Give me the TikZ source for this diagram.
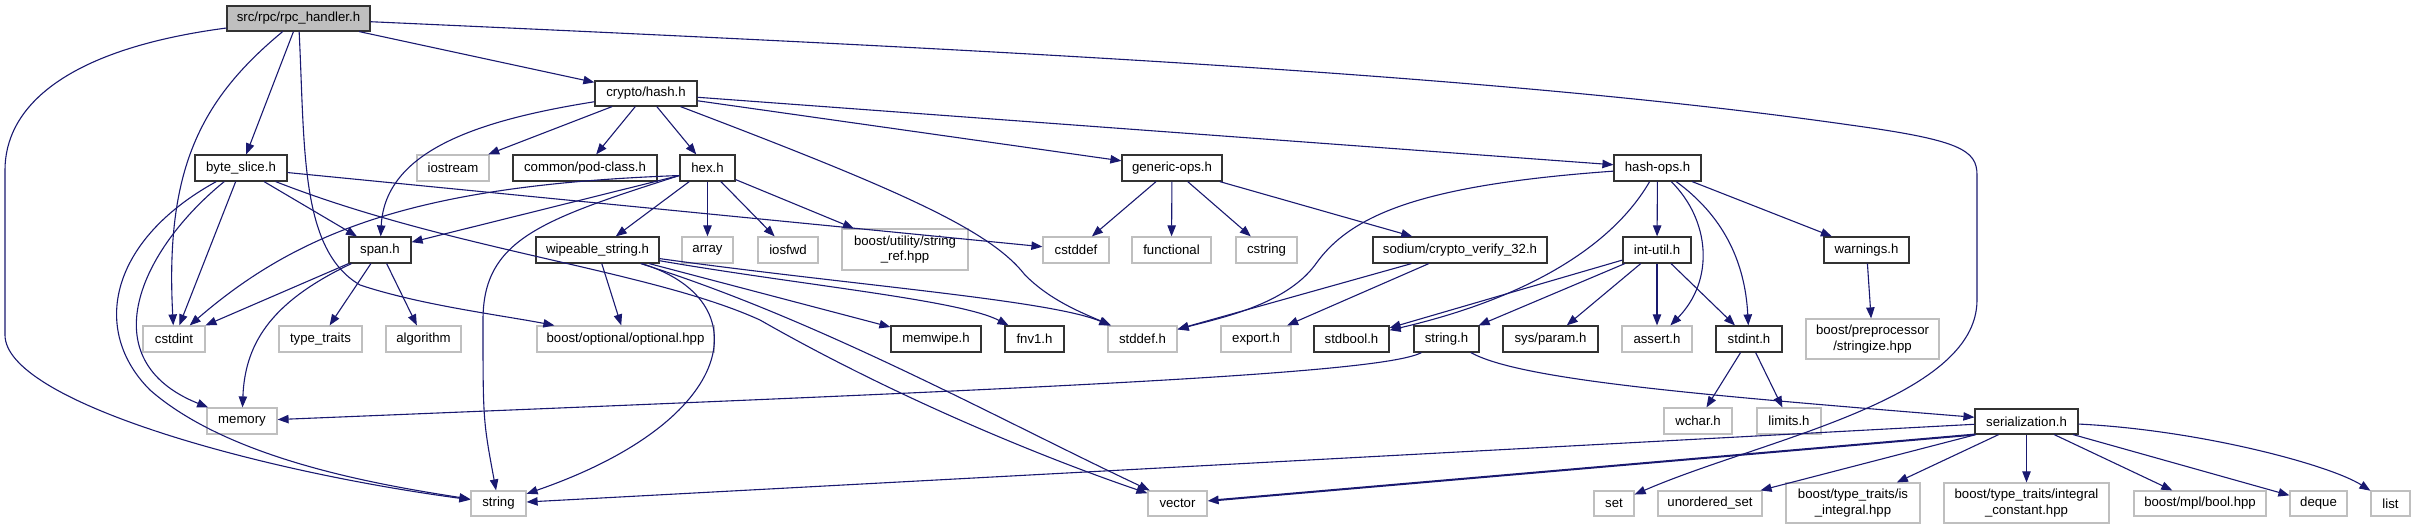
\documentclass[tikz,border=0pt]{standalone}
\usepackage{fontspec}
\setmainfont{Liberation Sans}
\usetikzlibrary{arrows.meta}
\definecolor{edgeblue}{HTML}{191970}
\definecolor{extgray}{HTML}{BFBFBF}

\begin{document}
\begin{tikzpicture}[x=0.5pt,y=-0.5pt,
  file/.style={draw=black!80,line width=0.6pt,fill=white,minimum height=13pt,inner sep=0pt,align=center,font=\fontsize{6.6}{7.6}\selectfont},
  extfile/.style={file,draw=extgray},
  rootfile/.style={file,fill=extgray},
  inc/.style={edgeblue,line width=0.55pt,-{Triangle[length=5.5pt,width=4.2pt]}}]
\useasboundingbox (0,0) rectangle (2415,529);
% Root and first levels
\node[rootfile,minimum width=71.5pt,minimum height=12.5pt] (rpc) at (298.5,18.5) {src/rpc/rpc\_handler.h};
\node[file,minimum width=51pt,minimum height=12.5pt] (hash) at (646,93.5) {crypto/hash.h};
\node[file,minimum width=46pt] (bslice) at (241,168) {byte\_slice.h};
\node[extfile,minimum width=36pt] (iostream) at (453,168) {iostream};
\node[file,minimum width=72pt] (podclass) at (585,168) {common/pod-class.h};
\node[file,minimum width=27.5pt] (hex) at (707.5,168) {hex.h};
\node[file,minimum width=50pt] (genops) at (1172,168) {generic-ops.h};
\node[file,minimum width=43.5pt] (hashops) at (1657.5,168) {hash-ops.h};
% Third row
\node[file,minimum width=31pt] (span) at (380,250) {span.h};
\node[file,minimum width=61.5pt] (wipe) at (597.5,250) {wipeable\_string.h};
\node[extfile,minimum width=25.5pt] (array) at (707.5,250) {array};
\node[extfile,minimum width=30pt] (iosfwd) at (788,250) {iosfwd};
\node[extfile,minimum width=63pt,minimum height=20.5pt] (strref) at (905,249.5) {boost/utility/string\\\_ref.hpp};
\node[extfile,minimum width=33pt] (cstddef) at (1076,250) {cstddef};
\node[extfile,minimum width=39.5pt] (functional) at (1171.5,250) {functional};
\node[extfile,minimum width=30.5pt] (cstring) at (1266.5,250) {cstring};
\node[file,minimum width=87pt] (sodium) at (1460,250) {sodium/crypto\_verify\_32.h};
\node[file,minimum width=34pt] (intutil) at (1657,250) {int-util.h};
\node[file,minimum width=42.5pt] (warnings) at (1866.5,250) {warnings.h};
% Fourth row
\node[extfile,minimum width=31pt] (cstdint) at (174,339) {cstdint};
\node[extfile,minimum width=41.5pt] (typetraits) at (320.5,339) {type\_traits};
\node[extfile,minimum width=37.5pt] (algorithm) at (423.5,339) {algorithm};
\node[extfile,minimum width=88.5pt] (optional) at (625.5,339) {boost/optional/optional.hpp};
\node[file,minimum width=45pt] (memwipe) at (936,339) {memwipe.h};
\node[file,minimum width=29.5pt] (fnv) at (1034.5,339) {fnv1.h};
\node[extfile,minimum width=34.5pt] (stddef) at (1142.5,339) {stddef.h};
\node[extfile,minimum width=35pt] (export) at (1256,339) {export.h};
\node[file,minimum width=37.5pt] (stdbool) at (1351.5,339) {stdbool.h};
\node[file,minimum width=32.5pt] (stringh) at (1446.5,339) {string.h};
\node[file,minimum width=47.5pt] (sysparam) at (1550.5,339) {sys/param.h};
\node[extfile,minimum width=35pt] (assert) at (1657,339) {assert.h};
\node[file,minimum width=33pt] (stdint) at (1749,339) {stdint.h};
\node[extfile,minimum width=66.5pt,minimum height=20pt] (stringize) at (1872.5,339) {boost/preprocessor\\/stringize.hpp};
% Fifth row
\node[extfile,minimum width=35pt] (memory) at (242,421) {memory};
\node[extfile,minimum width=34pt] (wchar) at (1698,421) {wchar.h};
\node[extfile,minimum width=32pt] (limits) at (1789,421) {limits.h};
\node[file,minimum width=51.5pt,minimum height=12.5pt] (serial) at (2026.5,421.5) {serialization.h};
% Bottom row
\node[extfile,minimum width=27.5pt,minimum height=12.5pt] (string) at (498.5,503.5) {string};
\node[extfile,minimum width=29.5pt,minimum height=12.5pt] (vector) at (1177.5,503.5) {vector};
\node[extfile,minimum width=20pt,minimum height=12.5pt] (set) at (1614,503.5) {set};
\node[extfile,minimum width=52pt,minimum height=12.5pt] (unordset) at (1710,503.5) {unordered\_set};
\node[extfile,minimum width=67pt,minimum height=20pt] (isintegral) at (1853,503) {boost/type\_traits/is\\\_integral.hpp};
\node[extfile,minimum width=82.5pt,minimum height=20pt] (intconst) at (2026.5,503) {boost/type\_traits/integral\\\_constant.hpp};
\node[extfile,minimum width=66pt,minimum height=12.5pt] (mplbool) at (2200,503.5) {boost/mpl/bool.hpp};
\node[extfile,minimum width=28.5pt,minimum height=12.5pt] (deque) at (2318.5,503.5) {deque};
\node[extfile,minimum width=19.5pt,minimum height=12.5pt] (list) at (2390.5,503.5) {list};
% rpc_handler.h
\draw[inc] (rpc) .. controls (60,50) and (5,110) .. (5,170) -- (5,335) .. controls (5,400) and (250,470) .. (string);
\draw[inc] (rpc) .. controls (200,100) and (165,170) .. (cstdint);
\draw[inc] (rpc) -- (bslice);
\draw[inc] (rpc) .. controls (305,150) and (300,250) .. (360,285) .. controls (420,305) and (500,315) .. (optional);
\draw[inc] (rpc) -- (hash);
\draw[inc] (rpc) .. controls (1000,50) and (1500,75) .. (1850,125) .. controls (1960,140) and (1977,150) .. (1977,175) -- (1977,300) .. controls (1977,400) and (1760,440) .. (set);
% crypto/hash.h
\draw[inc] (hash) .. controls (480,120) and (385,150) .. (span);
\draw[inc] (hash) -- (iostream);
\draw[inc] (hash) -- (podclass);
\draw[inc] (hash) -- (hex);
\draw[inc] (hash) .. controls (900,190) and (990,230) .. (1025,275) .. controls (1050,300) and (1080,312) .. (stddef);
\draw[inc] (hash) -- (genops);
\draw[inc] (hash) -- (hashops);
% byte_slice.h
\draw[inc] (bslice) .. controls (110,240) and (90,330) .. (150,390) .. controls (230,460) and (380,485) .. (string);
\draw[inc] (bslice) .. controls (140,250) and (90,360) .. (memory);
\draw[inc] (bslice) -- (cstdint);
\draw[inc] (bslice) -- (span);
\draw[inc] (bslice) .. controls (450,250) and (650,270) .. (760,320) .. controls (900,400) and (1050,460) .. (vector);
\draw[inc] (bslice) -- (cstddef);
% span.h
\draw[inc] (span) -- (cstdint);
\draw[inc] (span) .. controls (275,300) and (245,340) .. (memory);
\draw[inc] (span) -- (typetraits);
\draw[inc] (span) -- (algorithm);
% hex.h
\draw[inc] (hex.-165) -- (span);
\draw[inc] (hex.-165) .. controls (420,185) and (300,230) .. (cstdint);
\draw[inc] (hex.-165) .. controls (540,220) and (483,240) .. (483,320) .. controls (483,420) .. (string);
\draw[inc] (hex) -- (wipe);
\draw[inc] (hex) -- (array);
\draw[inc] (hex) -- (iosfwd);
\draw[inc] (hex) -- (strref);
% wipeable_string.h
\draw[inc] (wipe) -- (optional);
\draw[inc] (wipe) .. controls (760,300) and (740,420) .. (string);
\draw[inc] (wipe) -- (memwipe);
\draw[inc] (wipe) .. controls (800,285) and (960,300) .. (fnv);
\draw[inc] (wipe) .. controls (850,285) and (1050,300) .. (stddef);
\draw[inc] (wipe) .. controls (820,320) and (1000,420) .. (vector);
% generic-ops.h and sodium
\draw[inc] (genops) -- (cstddef);
\draw[inc] (genops) -- (functional);
\draw[inc] (genops) -- (cstring);
\draw[inc] (genops) -- (sodium);
\draw[inc] (sodium) -- (stddef);
\draw[inc] (sodium) -- (export);
% hash-ops.h
\draw[inc] (hashops) .. controls (1420,185) and (1350,215) .. (1315,265) .. controls (1285,305) and (1220,318) .. (stddef);
\draw[inc] (hashops) .. controls (1610,250) and (1520,300) .. (stdbool);
\draw[inc] (hashops) -- (intutil);
\draw[inc] (hashops) .. controls (1710,220) and (1715,280) .. (assert);
\draw[inc] (hashops) .. controls (1722,215) and (1745,260) .. (stdint);
\draw[inc] (hashops) -- (warnings);
% int-util.h
\draw[inc] (intutil) -- (stdbool);
\draw[inc] (intutil) -- (stringh);
\draw[inc] (intutil) -- (sysparam);
\draw[inc] (intutil) -- (assert);
\draw[inc] (intutil) -- (stdint);
\draw[inc] (warnings) -- (stringize);
\draw[inc] (stdint) -- (wchar);
\draw[inc] (stdint) -- (limits);
% string.h
\draw[inc] (stringh) .. controls (1380,375) and (1000,390) .. (memory);
\draw[inc] (stringh) .. controls (1520,380) and (1700,395) .. (serial);
% serialization.h
\draw[inc] (serial) -- (string);
\draw[inc,line width=1pt] (serial.south west) -- (vector);
\draw[inc] (serial) -- (unordset);
\draw[inc] (serial) -- (isintegral);
\draw[inc] (serial) -- (intconst);
\draw[inc] (serial) -- (mplbool);
\draw[inc] (serial) -- (deque);
\draw[inc] (serial) .. controls (2200,430) and (2330,465) .. (list);
\end{tikzpicture}
\end{document}
